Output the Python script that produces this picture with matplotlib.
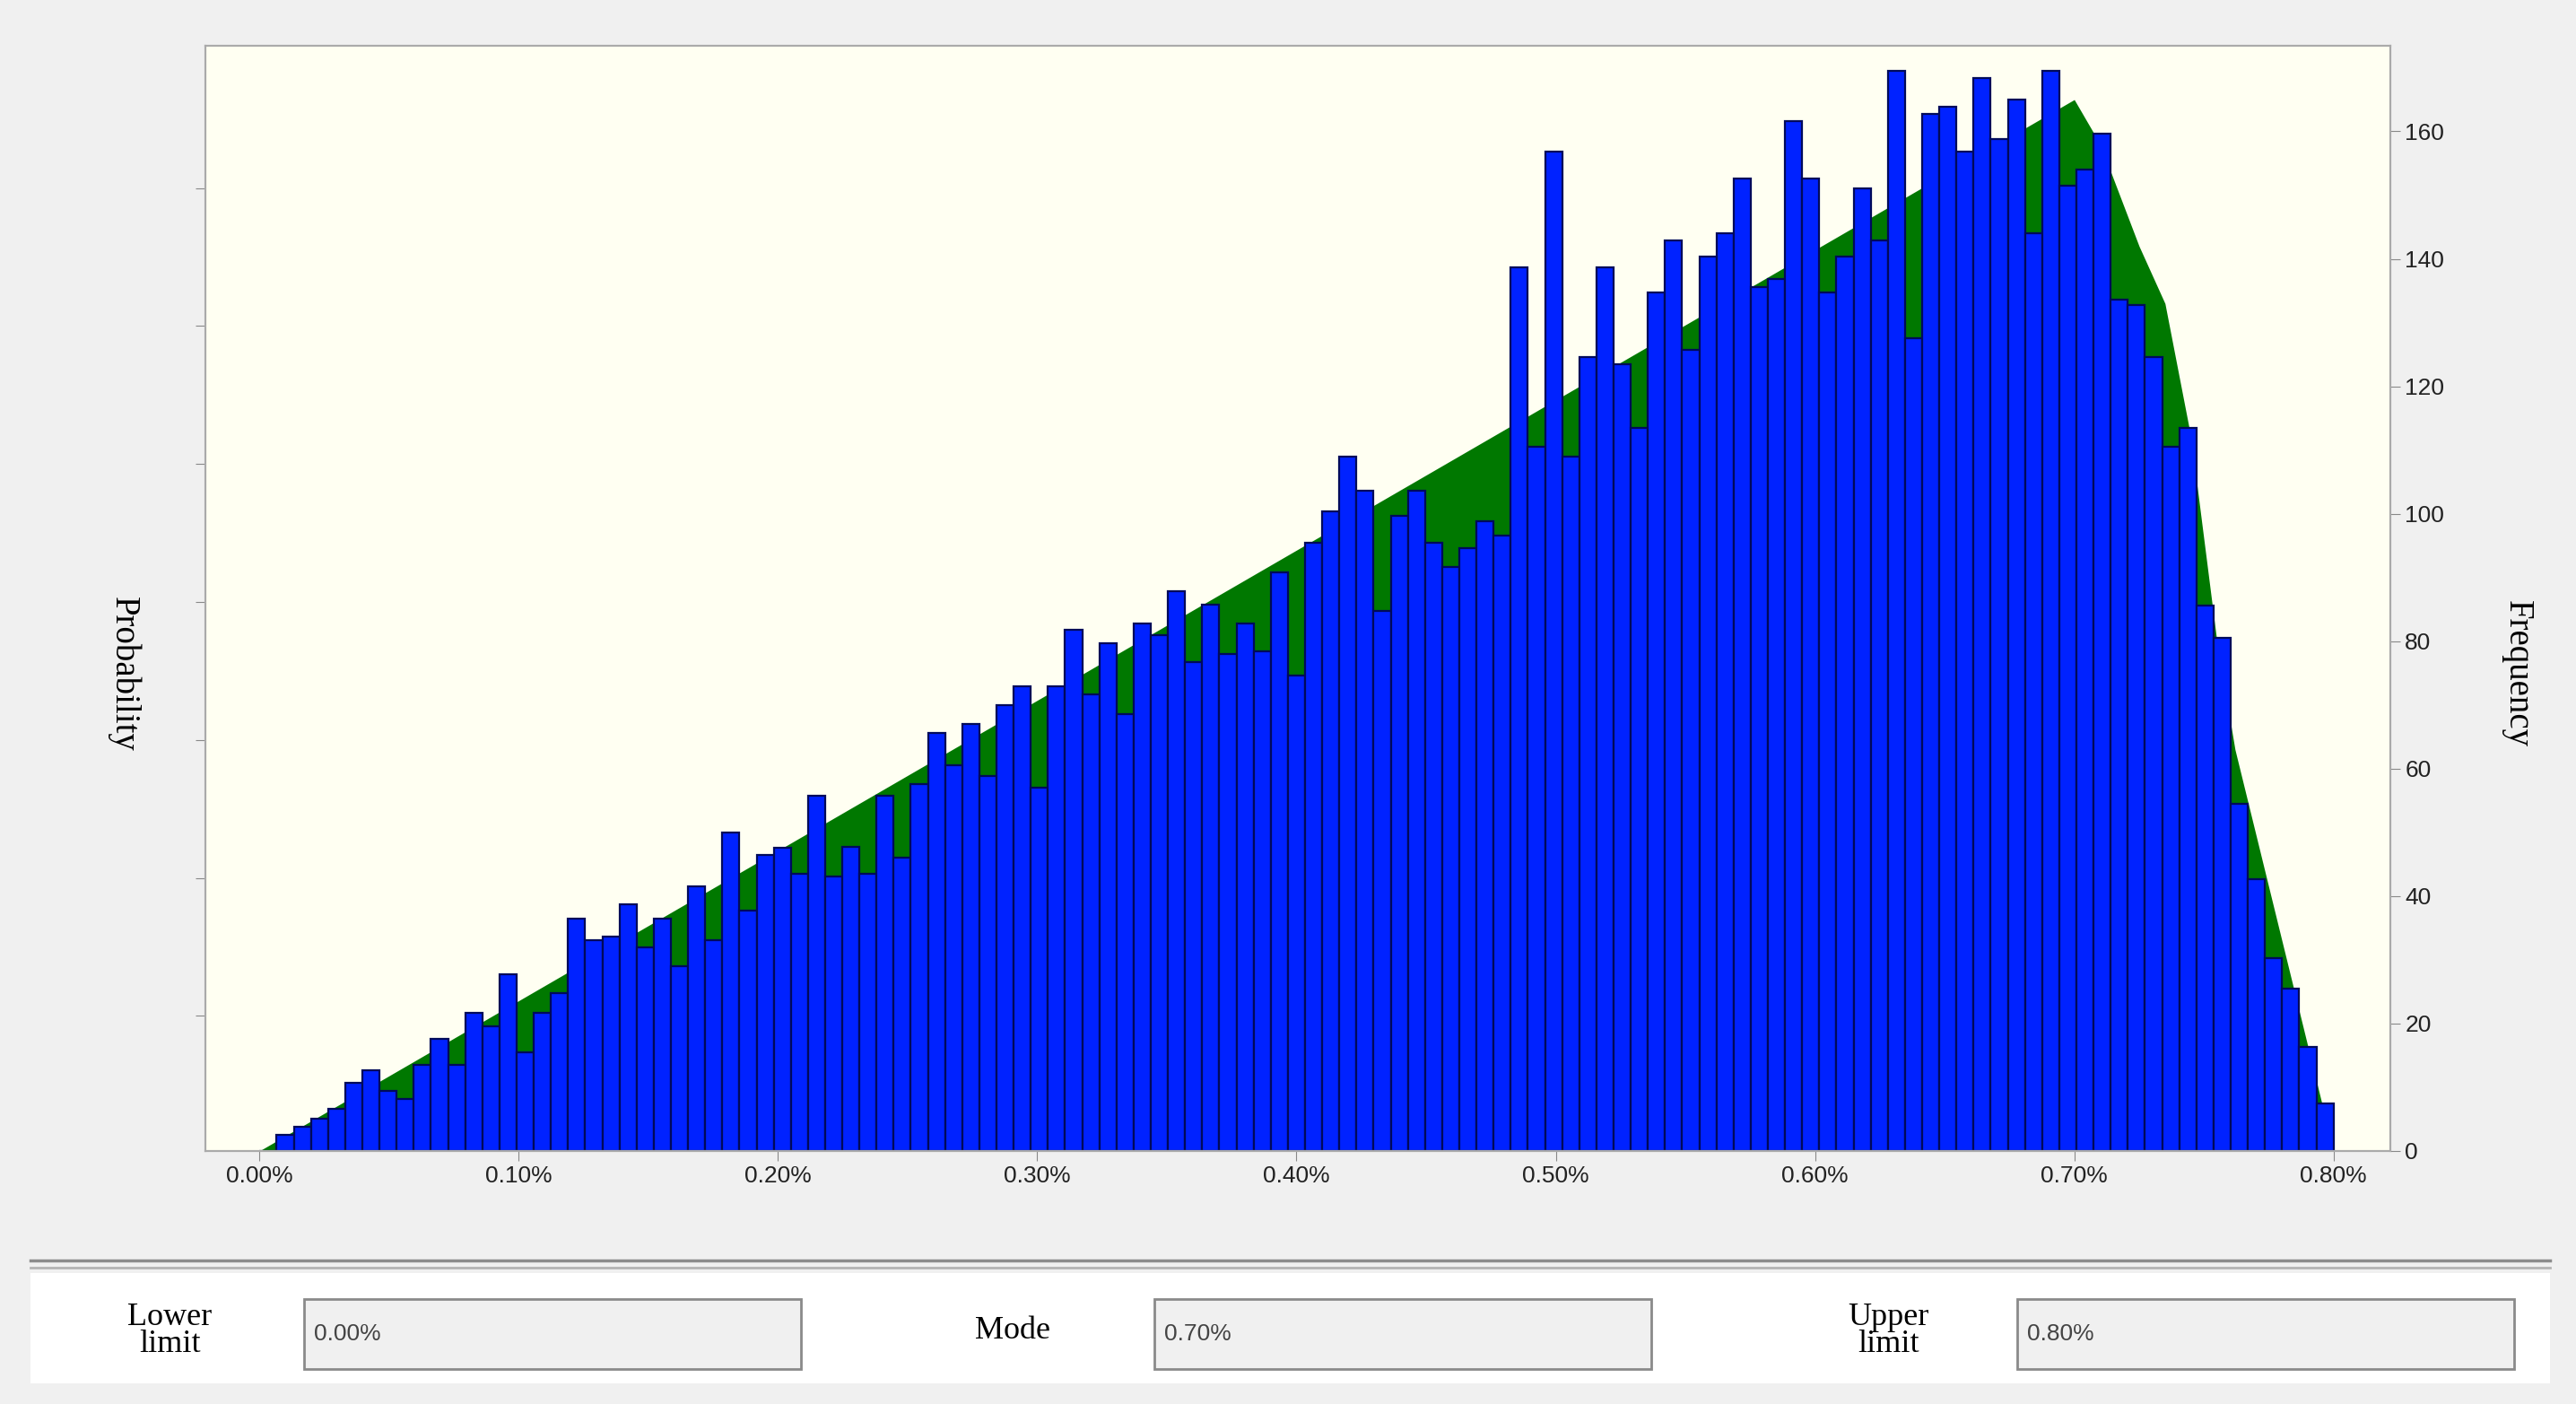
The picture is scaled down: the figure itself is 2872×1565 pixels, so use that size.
import numpy as np
import matplotlib
matplotlib.use("Agg")
import matplotlib.pyplot as plt
from matplotlib.patches import Rectangle

# ---- data ----
n_bins = 121
x_min, x_max = 0.0, 0.80
freq = [0, 2.5, 3.8, 5, 6.6, 10.7, 12.6, 9.4, 8.2, 13.5, 17.6, 13.5, 21.7, 19.5, 27.7, 15.4,
        21.7, 24.8, 36.5, 33, 33.6, 38.7, 32, 36.5, 29, 41.5, 33, 50, 37.7, 46.5, 47.5,
        43.5, 55.8, 43, 47.7, 43.5, 55.8, 46, 57.5, 65.6, 60.5, 67, 58.8, 70, 72.9, 57,
        72.9, 81.8, 71.6, 79.7, 68.6, 82.7, 81, 87.8, 76.7, 85.7, 78, 82.7, 78.4, 90.8, 74.6,
        95.4, 100.4, 108.9, 103.6, 84.7, 99.6, 103.6, 95.4, 91.7, 94.6, 98.8, 96.5, 138.6, 110.5,
        156.8, 108.9, 124.6, 138.6, 123.5, 113.4, 134.7, 142.9, 125.7, 140.3, 144, 152.6, 135.6,
        136.9, 161.6, 152.6, 134.7, 140.3, 151, 142.9, 169.5, 127.6, 162.7, 163.9, 156.8, 168.4,
        158.8, 165, 144, 169.5, 151.5, 154, 159.7, 133.6, 132.8, 124.6, 110.5, 113.4, 85.6, 80.5,
        54.4, 42.6, 30.3, 25.5, 16.3, 7.5]
curve_x = [0.0, 0.70, 0.71, 0.725, 0.735, 0.745, 0.755, 0.762, 0.80]
curve_y = [0.0, 165, 158, 142, 133, 112, 80, 63, 0.0]
xticks = [0.0, 0.1, 0.2, 0.3, 0.4, 0.5, 0.6, 0.7, 0.8]
xtick_labels = ["0.00%", "0.10%", "0.20%", "0.30%", "0.40%", "0.50%", "0.60%", "0.70%", "0.80%"]
freq_ticks = [0, 20, 40, 60, 80, 100, 120, 140, 160]
prob_ticks = [21.2, 42.8, 64.5, 86.2, 107.9, 129.5, 151.0]
field_labels = ["Lower\nlimit", "Mode", "Upper\nlimit"]
field_values = ["0.00%", "0.70%", "0.80%"]

fig = plt.figure(figsize=(28.72, 15.65), dpi=100)
fig.patch.set_facecolor("#f0f0f0")
ax = fig.add_axes([0.0797, 0.1803, 0.8483, 0.7869])
ax.set_facecolor("#fffff2")

ax.fill_between(curve_x, curve_y, 0, color="#007800", lw=0, zorder=1)
w = (x_max - x_min) / n_bins
lefts = x_min + w * np.arange(n_bins)
ax.bar(lefts, freq, width=w, align="edge", color="#0022ff", edgecolor="#000a5a",
       linewidth=1.6, zorder=2)

ax.set_xlim(-0.0209, 0.822)
ax.set_ylim(0, 173.4)
ax.set_xticks(xticks)
ax.set_xticklabels(xtick_labels, fontsize=19, family="Liberation Sans", color="#222222")
ax.set_yticks(prob_ticks)
ax.set_yticklabels([])
ax.tick_params(axis="y", length=8, color="#888888")
ax.tick_params(axis="x", length=8, color="#888888")
ax.yaxis.set_tick_params(right=True, labelright=True, labelleft=False)
ax2 = ax.twinx()
ax2.set_ylim(ax.get_ylim())
ax2.set_yticks(freq_ticks)
ax2.set_yticklabels([str(t) for t in freq_ticks], fontsize=19, family="Liberation Sans", color="#222222")
ax2.tick_params(axis="y", length=8, color="#888888")
ax.tick_params(axis="y", right=False)
for a in (ax, ax2):
    for s in a.spines.values():
        s.set_color("#aaaaaa")
        s.set_linewidth(1.5)

fig.text(0.048, 0.52, "Probability", rotation=270, ha="center", va="center",
         fontsize=28, family="Liberation Serif")
fig.text(0.977, 0.52, "Frequency", rotation=270, ha="center", va="center",
         fontsize=28, family="Liberation Serif")

# separator
fig.add_artist(plt.Line2D([0.012, 0.99], [0.102, 0.102], color="#8c8c8c", lw=2.5))
fig.add_artist(plt.Line2D([0.012, 0.99], [0.097, 0.097], color="#b4b4b4", lw=2.0))
fig.add_artist(Rectangle((0.012, 0.015), 0.978, 0.078, transform=fig.transFigure,
                         facecolor="white", edgecolor="none"))

label_x = [0.066, 0.393, 0.733]
box_x = [0.118, 0.448, 0.783]
for lx, bx, lab, val in zip(label_x, box_x, field_labels, field_values):
    fig.text(lx, 0.052, lab, ha="center", va="center", fontsize=26,
             family="Liberation Serif", linespacing=0.85)
    fig.add_artist(Rectangle((bx, 0.025), 0.193, 0.050, transform=fig.transFigure,
                             facecolor="#f0f0f0", edgecolor="#8a8a8a", lw=2))
    fig.text(bx + 0.004, 0.050, val, ha="left", va="center", fontsize=19,
             family="Liberation Sans", color="#444444")

fig.savefig("out.png", dpi=100, facecolor=fig.get_facecolor())
